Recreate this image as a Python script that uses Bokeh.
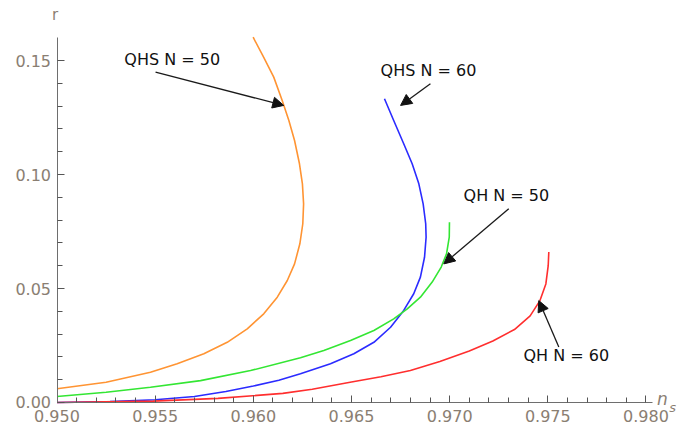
from bokeh.plotting import figure
from bokeh.models import Range1d, FixedTicker, Label, Arrow, NormalHead, NumeralTickFormatter
from bokeh.embed import file_html
from bokeh.resources import INLINE

# ---- data ----
ns_qhs50 = [0.95000, 0.95250, 0.95476, 0.95612, 0.95748, 0.95867, 0.95969, 0.96053,
            0.96122, 0.96173, 0.96210, 0.96237, 0.96252, 0.96256, 0.96250, 0.96235,
            0.96210, 0.96181, 0.96147, 0.96104, 0.96053, 0.95999]
r_qhs50 = [0.0060, 0.0089, 0.0133, 0.0170, 0.0214, 0.0264, 0.0323, 0.0389,
           0.0462, 0.0535, 0.0608, 0.0696, 0.0784, 0.0871, 0.0959, 0.1047,
           0.1149, 0.1237, 0.1325, 0.1427, 0.1514, 0.1602]

ns_qhs60 = [0.95000, 0.95270, 0.95500, 0.95700, 0.95860, 0.96000, 0.96130, 0.96240,
            0.96393, 0.96512, 0.96614, 0.96699, 0.96766, 0.96817, 0.96851, 0.96872,
            0.96880, 0.96878, 0.96865, 0.96843, 0.96809, 0.96766, 0.96715, 0.96668]
r_qhs60 = [0.0000, 0.0004, 0.0012, 0.0026, 0.0048, 0.0072, 0.0098, 0.0126,
           0.0170, 0.0214, 0.0264, 0.0330, 0.0404, 0.0477, 0.0550, 0.0637,
           0.0725, 0.0784, 0.0871, 0.0959, 0.1047, 0.1135, 0.1237, 0.1332]

ns_qh50 = [0.95000, 0.95250, 0.95476, 0.95731, 0.95986, 0.96240, 0.96359, 0.96495,
           0.96614, 0.96715, 0.96784, 0.96851, 0.96911, 0.96957, 0.96984, 0.96998, 0.96999]
r_qh50 = [0.0026, 0.0045, 0.0067, 0.0096, 0.0140, 0.0196, 0.0228, 0.0272,
          0.0316, 0.0367, 0.0411, 0.0462, 0.0528, 0.0594, 0.0652, 0.0725, 0.0791]

ns_qh60 = [0.9500, 0.9549, 0.9582, 0.9615, 0.9630, 0.9650, 0.9665, 0.9680, 0.9695,
           0.9710, 0.9722, 0.9733, 0.9741, 0.9746, 0.9749, 0.97502, 0.97505]
r_qh60 = [0.0000, 0.0006, 0.0018, 0.0040, 0.0058, 0.0090, 0.0113, 0.0140, 0.0180,
          0.0226, 0.0270, 0.0320, 0.0380, 0.0447, 0.0520, 0.0600, 0.0660]

x_major = [0.950, 0.955, 0.960, 0.965, 0.970, 0.975, 0.980]
y_major = [0.00, 0.05, 0.10, 0.15]

labels = ["QHS N = 50", "QHS N = 60", "QH N = 50", "QH N = 60"]
# label centre (ns, r), arrow tail (ns, r), arrow tip (ns, r)
label_pos = [(0.95587, 0.1504), (0.96892, 0.1456), (0.97289, 0.0908), (0.97594, 0.0206)]
arrow_tail = [(0.95502, 0.1449), (0.96902, 0.1398), (0.97301, 0.0850), (0.97556, 0.0243)]
arrow_tip = [(0.96155, 0.1303), (0.96750, 0.1303), (0.96970, 0.0608), (0.97454, 0.0447)]

TICK_COLOR = "#8a7e72"
AXIS_COLOR = "#6e6e6e"
FONT = "DejaVu Sans"

# frame fills the whole canvas; the axes are pinned at ns=0.950 and r=0
p = figure(width=680, height=427, output_backend="svg", toolbar_location=None,
           x_range=Range1d(0.947122, 0.981758), y_range=Range1d(-0.010965, 0.176316),
           min_border=0)
p.outline_line_color = None
p.grid.visible = False
p.background_fill_color = "white"
p.border_fill_color = "white"

p.line(ns_qhs50, r_qhs50, line_color="#ff9433", line_width=1.6)
p.line(ns_qhs60, r_qhs60, line_color="#2b2bff", line_width=1.6)
p.line(ns_qh50, r_qh50, line_color="#33e633", line_width=1.6)
p.line(ns_qh60, r_qh60, line_color="#ff2e2e", line_width=1.6)

xminor = [round(0.950 + 0.001 * i, 3) for i in range(31) if i % 5 != 0]
yminor = [round(0.01 * i, 2) for i in range(16) if i % 5 != 0]
p.xaxis.ticker = FixedTicker(ticks=x_major, minor_ticks=xminor)
p.yaxis.ticker = FixedTicker(ticks=y_major, minor_ticks=yminor)
p.xaxis.formatter = NumeralTickFormatter(format="0.000")
p.yaxis.formatter = NumeralTickFormatter(format="0.00")
p.xaxis.fixed_location = 0.0
p.yaxis.fixed_location = 0.950
p.xaxis.bounds = (0.950, 0.98031)
p.yaxis.bounds = (0.0, 0.1601)

for ax in (p.xaxis, p.yaxis):
    ax.axis_line_color = AXIS_COLOR
    ax.axis_line_width = 1
    ax.major_tick_line_color = "#555555"
    ax.minor_tick_line_color = "#555555"
    ax.major_tick_line_width = 1
    ax.minor_tick_line_width = 1
    ax.major_tick_in = 7
    ax.major_tick_out = 0
    ax.minor_tick_in = 5
    ax.minor_tick_out = 0
    ax.major_label_text_color = TICK_COLOR
    ax.major_label_text_font = FONT
    ax.major_label_text_font_size = "16px"
p.xaxis.major_label_standoff = 8
p.yaxis.major_label_standoff = 6

for txt, (lx, ly), (tx, ty), (hx, hy) in zip(labels, label_pos, arrow_tail, arrow_tip):
    p.add_layout(Label(x=lx, y=ly, text=txt, text_align="center", text_baseline="middle",
                       text_font=FONT, text_font_size="16px", text_color="#111111"))
    p.add_layout(Arrow(x_start=tx, y_start=ty, x_end=hx, y_end=hy,
                       line_color="#1a1a1a", line_width=1.3,
                       end=NormalHead(size=11, fill_color="#111111", line_color="#111111")))

# axis labels
p.add_layout(Label(x=0.949898, y=0.16974, text="r", text_align="center", text_baseline="middle",
                   text_font=FONT, text_font_size="15px", text_color=TICK_COLOR))
p.add_layout(Label(x=0.980830, y=0.00150, text="n", text_align="center", text_baseline="middle",
                   text_font=FONT, text_font_style="italic", text_font_size="17px",
                   text_color=TICK_COLOR))
p.add_layout(Label(x=0.981360, y=-0.00200, text="s", text_align="center", text_baseline="middle",
                   text_font=FONT, text_font_style="italic", text_font_size="13px",
                   text_color=TICK_COLOR))

open("out.html", "w").write(file_html(p, INLINE))
